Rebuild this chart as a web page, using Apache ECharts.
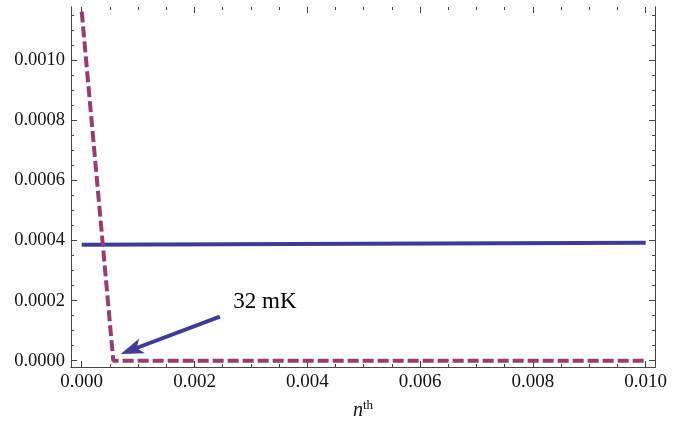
<!DOCTYPE html>
<html>
<head>
<meta charset="utf-8">
<script src="https://cdn.jsdelivr.net/npm/echarts@6/dist/echarts.min.js"></script>
<style>
  html, body { margin: 0; padding: 0; background: #fff; }
  #chart { width: 682px; height: 422px; }
</style>
</head>
<body>
<div id="chart"></div>
<script>
// data
var solidX = [0, 0.010];
var solidY = [0.000386, 0.000393];
var dashedX = [0, 0.00056, 0.010];
var dashedY = [0.001163, 0, 0];
var arrowFrom = [0.00245, 0.000147];
var arrowTo = [0.00069, 0.0000223];
var noteText = '32 mK';
var notePos = [0.00268, 0.000197];

var xTicks = [0, 0.002, 0.004, 0.006, 0.008, 0.010];
var yTicks = [0, 0.0002, 0.0004, 0.0006, 0.0008, 0.0010];
var xMinor = [];
for (var i = 0; i <= 20; i++) xMinor.push(+(i * 0.0005).toFixed(5));
var yMinor = [];
for (var j = 0; j <= 23; j++) yMinor.push(+(j * 0.00005).toFixed(6));

var xMin = -0.00019, xMax = 0.010165;
var yMin = -0.000021, yMax = 0.001178;

var font = 'Liberation Serif';
var axisColor = '#444';
var blue = '#3d3d99';

function pairs(xs, ys) {
    return xs.map(function (x, k) { return [x, ys[k]]; });
}

function xAx(pos, ticks, len, labels) {
    return {
        type: 'value', position: pos, min: xMin, max: xMax,
        axisLine: { show: pos === 'bottom', onZero: false, lineStyle: { color: axisColor, width: 1 } },
        axisTick: { show: true, inside: true, length: len, customValues: ticks, lineStyle: { color: axisColor } },
        axisLabel: labels ? {
            show: true, customValues: xTicks, margin: 6,
            fontFamily: font, fontSize: 19, color: '#111',
            formatter: function (v) { return v.toFixed(3); }
        } : { show: false },
        splitLine: { show: false }
    };
}

function yAx(pos, ticks, len, labels) {
    return {
        type: 'value', position: pos, min: yMin, max: yMax,
        axisLine: { show: true, onZero: false, lineStyle: { color: axisColor, width: 1 } },
        axisTick: { show: true, inside: true, length: len, customValues: ticks, lineStyle: { color: axisColor } },
        axisLabel: labels ? {
            show: true, customValues: yTicks, margin: 6,
            fontFamily: font, fontSize: 18.5, color: '#111',
            formatter: function (v) { return v.toFixed(4); }
        } : { show: false },
        splitLine: { show: false }
    };
}

var xBottom = xAx('bottom', xTicks, 6, true);
xBottom.name = '{n|n}{s|th}';
xBottom.nameLocation = 'middle';
xBottom.nameGap = 32;
xBottom.nameTextStyle = {
    rich: {
        n: { fontFamily: font, fontStyle: 'italic', fontSize: 20, color: '#111' },
        s: { fontFamily: font, fontSize: 13, color: '#111', padding: [0, 0, 10, 0] }
    }
};

// arrow: shaft plus a notched head, placed through the axes
function renderArrow(params, api) {
    var p1 = api.coord([api.value(0), api.value(1)]);
    var p2 = api.coord([api.value(2), api.value(3)]);
    var dx = p2[0] - p1[0], dy = p2[1] - p1[1];
    var L = Math.sqrt(dx * dx + dy * dy);
    var ux = dx / L, uy = dy / L, nx = -uy, ny = ux;
    var headLen = 23, headW = 8, notch = 6;
    var bx = p2[0] - ux * headLen, by = p2[1] - uy * headLen;
    return {
        type: 'group',
        children: [
            {
                type: 'line',
                shape: { x1: p1[0], y1: p1[1], x2: bx + ux * notch, y2: by + uy * notch },
                style: { stroke: blue, lineWidth: 4 }
            },
            {
                type: 'polygon',
                shape: {
                    points: [
                        p2,
                        [bx + nx * headW, by + ny * headW],
                        [bx + ux * notch, by + uy * notch],
                        [bx - nx * headW, by - ny * headW]
                    ]
                },
                style: { fill: blue }
            }
        ]
    };
}

var chart = echarts.init(document.getElementById('chart'));
chart.setOption({
    animation: false,
    grid: { left: 71, right: 27, top: 7, bottom: 55, containLabel: false, outerBoundsMode: 'none' },
    xAxis: [
        xBottom,
        xAx('bottom', xMinor, 3, false),
        xAx('top', xTicks, 6, false),
        xAx('top', xMinor, 3, false)
    ],
    yAxis: [
        yAx('left', yTicks, 6, true),
        yAx('left', yMinor, 3, false),
        yAx('right', yTicks, 6, false),
        yAx('right', yMinor, 3, false)
    ],
    series: [
        {
            type: 'line', data: pairs(solidX, solidY), showSymbol: false,
            lineStyle: { color: blue, width: 4 }
        },
        {
            type: 'line', data: pairs(dashedX, dashedY), showSymbol: false,
            lineStyle: { color: '#993d71', width: 4, type: [11, 4] }
        },
        {
            type: 'custom', renderItem: renderArrow, silent: true,
            data: [[arrowFrom[0], arrowFrom[1], arrowTo[0], arrowTo[1]]]
        },
        {
            type: 'scatter', data: [notePos], symbolSize: 1,
            itemStyle: { opacity: 0 },
            label: {
                show: true, position: 'right', distance: 0, opacity: 1,
                formatter: noteText, fontFamily: font, fontSize: 23, color: '#000'
            }
        }
    ]
});
</script>
</body>
</html>
